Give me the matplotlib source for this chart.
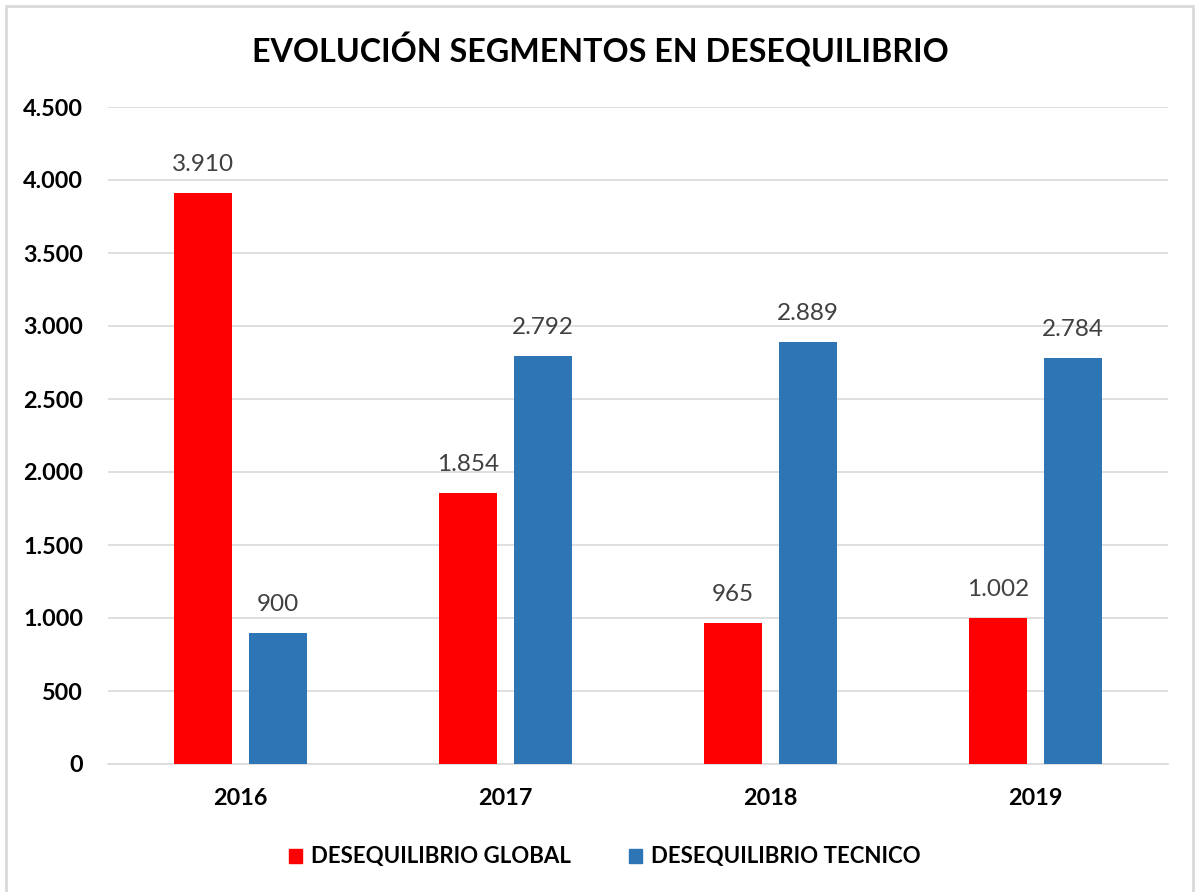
import matplotlib
matplotlib.use("Agg")
import matplotlib.pyplot as plt
from matplotlib.patches import Rectangle, Patch
import numpy as np

years = ["2016", "2017", "2018", "2019"]
global_vals = [3910, 1854, 965, 1002]
tecnico_vals = [900, 2792, 2889, 2784]
series_names = ["DESEQUILIBRIO GLOBAL", "DESEQUILIBRIO TECNICO"]
yticks = [0, 500, 1000, 1500, 2000, 2500, 3000, 3500, 4000, 4500]
title = "EVOLUCIÓN SEGMENTOS EN DESEQUILIBRIO"

RED = "#FF0000"
BLUE = "#2E75B6"
FONT = ["Lato", "DejaVu Sans"]

W, H = 1195, 892
fig = plt.figure(figsize=(W / 100, H / 100), dpi=100)
fig.patch.set_facecolor("white")

# outer chart border
fig.add_artist(Rectangle((6 / W, -0.01), (1193 - 6) / W, 1.01 - 6 / H,
                         transform=fig.transFigure, fill=False,
                         edgecolor="#D9D9D9", linewidth=2))

ax = fig.add_axes([108 / W, (H - 764) / H, (1168 - 108) / W, (764 - 107) / H])
x = np.arange(len(years))
bw = 0.219
off = 0.1415
b1 = ax.bar(x - off, global_vals, bw, color=RED, zorder=3)
b2 = ax.bar(x + off, tecnico_vals, bw, color=BLUE, zorder=3)

def fmt(v):
    return f"{v:,}".replace(",", ".")

for bars, vals in ((b1, global_vals), (b2, tecnico_vals)):
    for rect, v in zip(bars, vals):
        ax.annotate(fmt(v), (rect.get_x() + rect.get_width() / 2, v),
                    xytext=(0, 18), textcoords="offset pixels",
                    ha="center", va="bottom", fontsize=17.5, color="#404040",
                    family=FONT)

ax.set_xlim(-0.5, 3.5)
ax.set_ylim(0, 4500)
ax.set_yticks(yticks)
ax.set_yticklabels([fmt(v) for v in yticks], fontsize=16.8, fontweight="bold",
                   family=FONT, color="black")
ax.set_xticks(x)
ax.set_xticklabels(years, fontsize=16.8, fontweight="bold", family=FONT,
                   color="black")
ax.tick_params(axis="both", length=0)
ax.tick_params(axis="y", pad=18)
ax.tick_params(axis="x", pad=17)
ax.grid(axis="y", color="#D9D9D9", linewidth=1.2, zorder=0)
for s in ("top", "right", "left"):
    ax.spines[s].set_visible(False)
ax.spines["bottom"].set_color("#D9D9D9")
ax.spines["bottom"].set_linewidth(1.2)

fig.text(600 / W, 1 - 50 / H, title, ha="center", va="center",
         fontsize=23.2, fontweight="bold", family=FONT, color="black")

handles = [Patch(facecolor=RED, edgecolor=RED), Patch(facecolor=BLUE, edgecolor=BLUE)]
leg = fig.legend(handles, series_names, loc="center", bbox_to_anchor=(605 / W, 1 - 857 / H),
                 ncol=2, frameon=False, handlelength=0.6, handleheight=0.6,
                 handletextpad=0.4, columnspacing=2.6,
                 prop={"family": FONT, "weight": "bold", "size": 16})

fig.savefig("out.png", dpi=100, facecolor="white")
